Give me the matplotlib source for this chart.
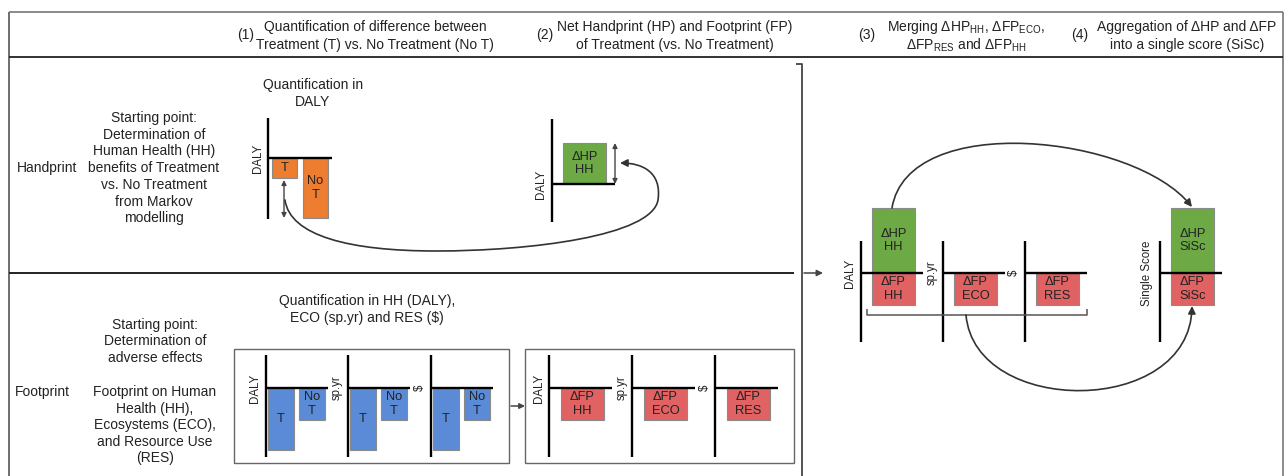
import matplotlib
matplotlib.use("Agg")
import matplotlib.pyplot as plt
from matplotlib.patches import FancyArrowPatch, Rectangle
from matplotlib.path import Path

plt.rcParams['font.family'] = ['Liberation Sans', 'DejaVu Sans']
plt.rcParams['mathtext.fontset'] = 'custom'
plt.rcParams['mathtext.rm'] = 'Liberation Sans'
plt.rcParams['mathtext.it'] = 'Liberation Sans:italic'
plt.rcParams['mathtext.bf'] = 'Liberation Sans:bold'

# ---- content ----
headers = [
    ("(1)", "Quantification of difference between", "Treatment (T) vs. No Treatment (No T)"),
    ("(2)", "Net Handprint (HP) and Footprint (FP)", "of Treatment (vs. No Treatment)"),
    ("(3)", r"Merging $\mathrm{ΔHP}_{\mathrm{HH}}$, $\mathrm{ΔFP}_{\mathrm{ECO}}$,",
     r"$\mathrm{ΔFP}_{\mathrm{RES}}$ and $\mathrm{ΔFP}_{\mathrm{HH}}$"),
    ("(4)", "Aggregation of ΔHP and ΔFP", "into a single score (SiSc)"),
]
hp_intro = ["Starting point:", "Determination of", "Human Health (HH)",
            "benefits of Treatment", "vs. No Treatment", "from Markov", "modelling"]
fp_intro = ["Starting point:", "Determination of", "adverse effects"]
fp_scope = ["Footprint on Human", "Health (HH),", "Ecosystems (ECO),",
            "and Resource Use", "(RES)"]

units = ["DALY", "sp.yr", "$"]
# illustrative bar sizes (pixels below / above the zero line)
hp_labels = ["T", "No\nT"]
hp_values = [20, 60]
hp_delta = 41
fp_T = [62, 62, 62]
fp_NoT = [32, 32, 32]
fp_delta_labels = ["ΔFP\nHH", "ΔFP\nECO", "ΔFP\nRES"]
fp_delta = [32, 32, 32]
merge_hp = 65
sisc_hp = 65
sisc_fp = 32

ORANGE = '#ED7D31'
GREEN = '#6DAA45'
RED = '#E06262'
BLUE = '#5B8AD6'
EDGE = '#8a8a8a'
TXT = '#222222'

fig = plt.figure(figsize=(12.88, 4.76), dpi=100)
ax = fig.add_axes([0, 0, 1, 1])
ax.set_xlim(0, 1288)
ax.set_ylim(476, 0)
ax.axis('off')


def seg(xs, ys, lw=1.7, c='black', z=3):
    ax.plot(xs, ys, color=c, lw=lw, solid_capstyle='butt', zorder=z)


def txt(x, y, s, size=10, **kw):
    kw.setdefault('ha', 'center')
    kw.setdefault('va', 'center')
    ax.text(x, y, s, fontsize=size, color=TXT, **kw)


def chart(x, y0, top, bottom, length, unit, dx):
    seg([x, x], [top, bottom])
    seg([x, x + length], [y0, y0])
    txt(x - dx, y0, unit, size=8.3, rotation=90)


def bar(x, w, base, h, color, label):
    ax.bar(x, h, width=w, bottom=base, align='edge', color=color,
           edgecolor=EDGE, lw=0.8, zorder=2)
    txt(x + w / 2, base + h / 2, label, size=9.3, linespacing=1.2)


def arrow(p0, p1, style='-|>', lw=1.1, ms=9, c='#444444'):
    ax.add_patch(FancyArrowPatch(p0, p1, arrowstyle=style, mutation_scale=ms,
                                 lw=lw, color=c, shrinkA=0, shrinkB=0, zorder=4))


def curve(verts, lw=1.2, ms=11):
    codes = [Path.MOVETO] + [Path.CURVE4] * (len(verts) - 1)
    ax.add_patch(FancyArrowPatch(path=Path(verts, codes), arrowstyle='-|>',
                                 mutation_scale=ms, lw=lw, color='#333333', zorder=4))


# ---- frame ----
seg([9, 9], [12, 476], lw=1.2, c='#555555')
seg([9, 1283], [12, 12], lw=1.2, c='#777777')
seg([1283, 1283], [12, 476], lw=1.2, c='#777777')
seg([9, 1283], [57, 57], lw=1.3, c='#222222')
seg([9, 794], [273, 273], lw=1.4, c='#222222')
seg([796, 802, 802], [64, 64, 476], lw=1.3, c='#444444')
arrow((804, 273), (823, 273))

# header
hx = [(246, 375), (545, 675), (867, 966), (1080, 1187)]
for (nx, cx), (num, l1, l2) in zip(hx, headers):
    txt(nx, 35, num)
    txt(cx, 27, l1)
    txt(cx, 45, l2)

# ---- handprint row ----
txt(17, 168, "Handprint", ha='left')
for i, s in enumerate(hp_intro):
    txt(154, 118 + 16.7 * i, s)
txt(313, 85, "Quantification in")
txt(313, 102, "DALY")

chart(268, 158, 118, 219, 64, "DALY", 10)
for bx, lab, v in zip([272, 303], hp_labels, hp_values):
    bar(bx, 25, 158, v, ORANGE, lab)
arrow((284, 180), (284, 218), style='<|-|>', ms=7, lw=1.0)

chart(552, 184, 119, 222, 63, "DALY", 11)
bar(563, 43, 184, -hp_delta, GREEN, "ΔHP\nHH")
arrow((615, 143), (615, 184), style='<|-|>', ms=7, lw=1.0)

curve([(285, 200), (290, 236), (350, 251), (436, 251),
       (530, 251), (652, 236), (658, 200),
       (662, 172), (642, 163), (620, 163)])

# ---- footprint row ----
txt(15, 392, "Footprint", ha='left')
for i, s in enumerate(fp_intro):
    txt(155, 325 + 16.3 * i, s)
for i, s in enumerate(fp_scope):
    txt(155, 392 + 16.5 * i, s)
txt(367, 301, "Quantification in HH (DALY),")
txt(367, 318, "ECO (sp.yr) and RES ($)")

ax.add_patch(Rectangle((234, 349), 275, 114, fill=False, ec='#666666', lw=1.0))
ax.add_patch(Rectangle((525, 349), 269, 114, fill=False, ec='#666666', lw=1.0))
arrow((511, 406), (525, 406), ms=8)

for x0, u, t, n in zip([266, 348, 431], units, fp_T, fp_NoT):
    chart(x0, 388, 355, 457, 62, u, 11)
    bar(x0 + 2, 26, 388, t, BLUE, "T")
    bar(x0 + 33, 26, 388, n, BLUE, "No\nT")

for x0, u, lab, v in zip([549, 632, 715], units, fp_delta_labels, fp_delta):
    chart(x0, 388, 355, 457, 63, u, 10)
    bar(x0 + 12, 43, 388, v, RED, lab)

# ---- merging + aggregation ----
for x0, u, lab, v in zip([861, 943, 1025], units, fp_delta_labels, fp_delta):
    chart(x0, 273, 241, 342, 62, u, 11)
    bar(x0 + 11, 43, 273, v, RED, lab)
bar(872, 43, 273, -merge_hp, GREEN, "ΔHP\nHH")
seg([867, 867, 1087, 1087], [309, 315, 315, 309], lw=1.1, c='#555555')

chart(1160, 273, 241, 342, 62, "Single Score", 13)
bar(1171, 43, 273, -sisc_hp, GREEN, "ΔHP\nSiSc")
bar(1171, 43, 273, sisc_fp, RED, "ΔFP\nSiSc")

curve([(892, 208), (908, 110), (1135, 135), (1192, 207)])
curve([(966, 315), (975, 417), (1190, 417), (1192, 306)])

fig.savefig('out.png', dpi=100)
